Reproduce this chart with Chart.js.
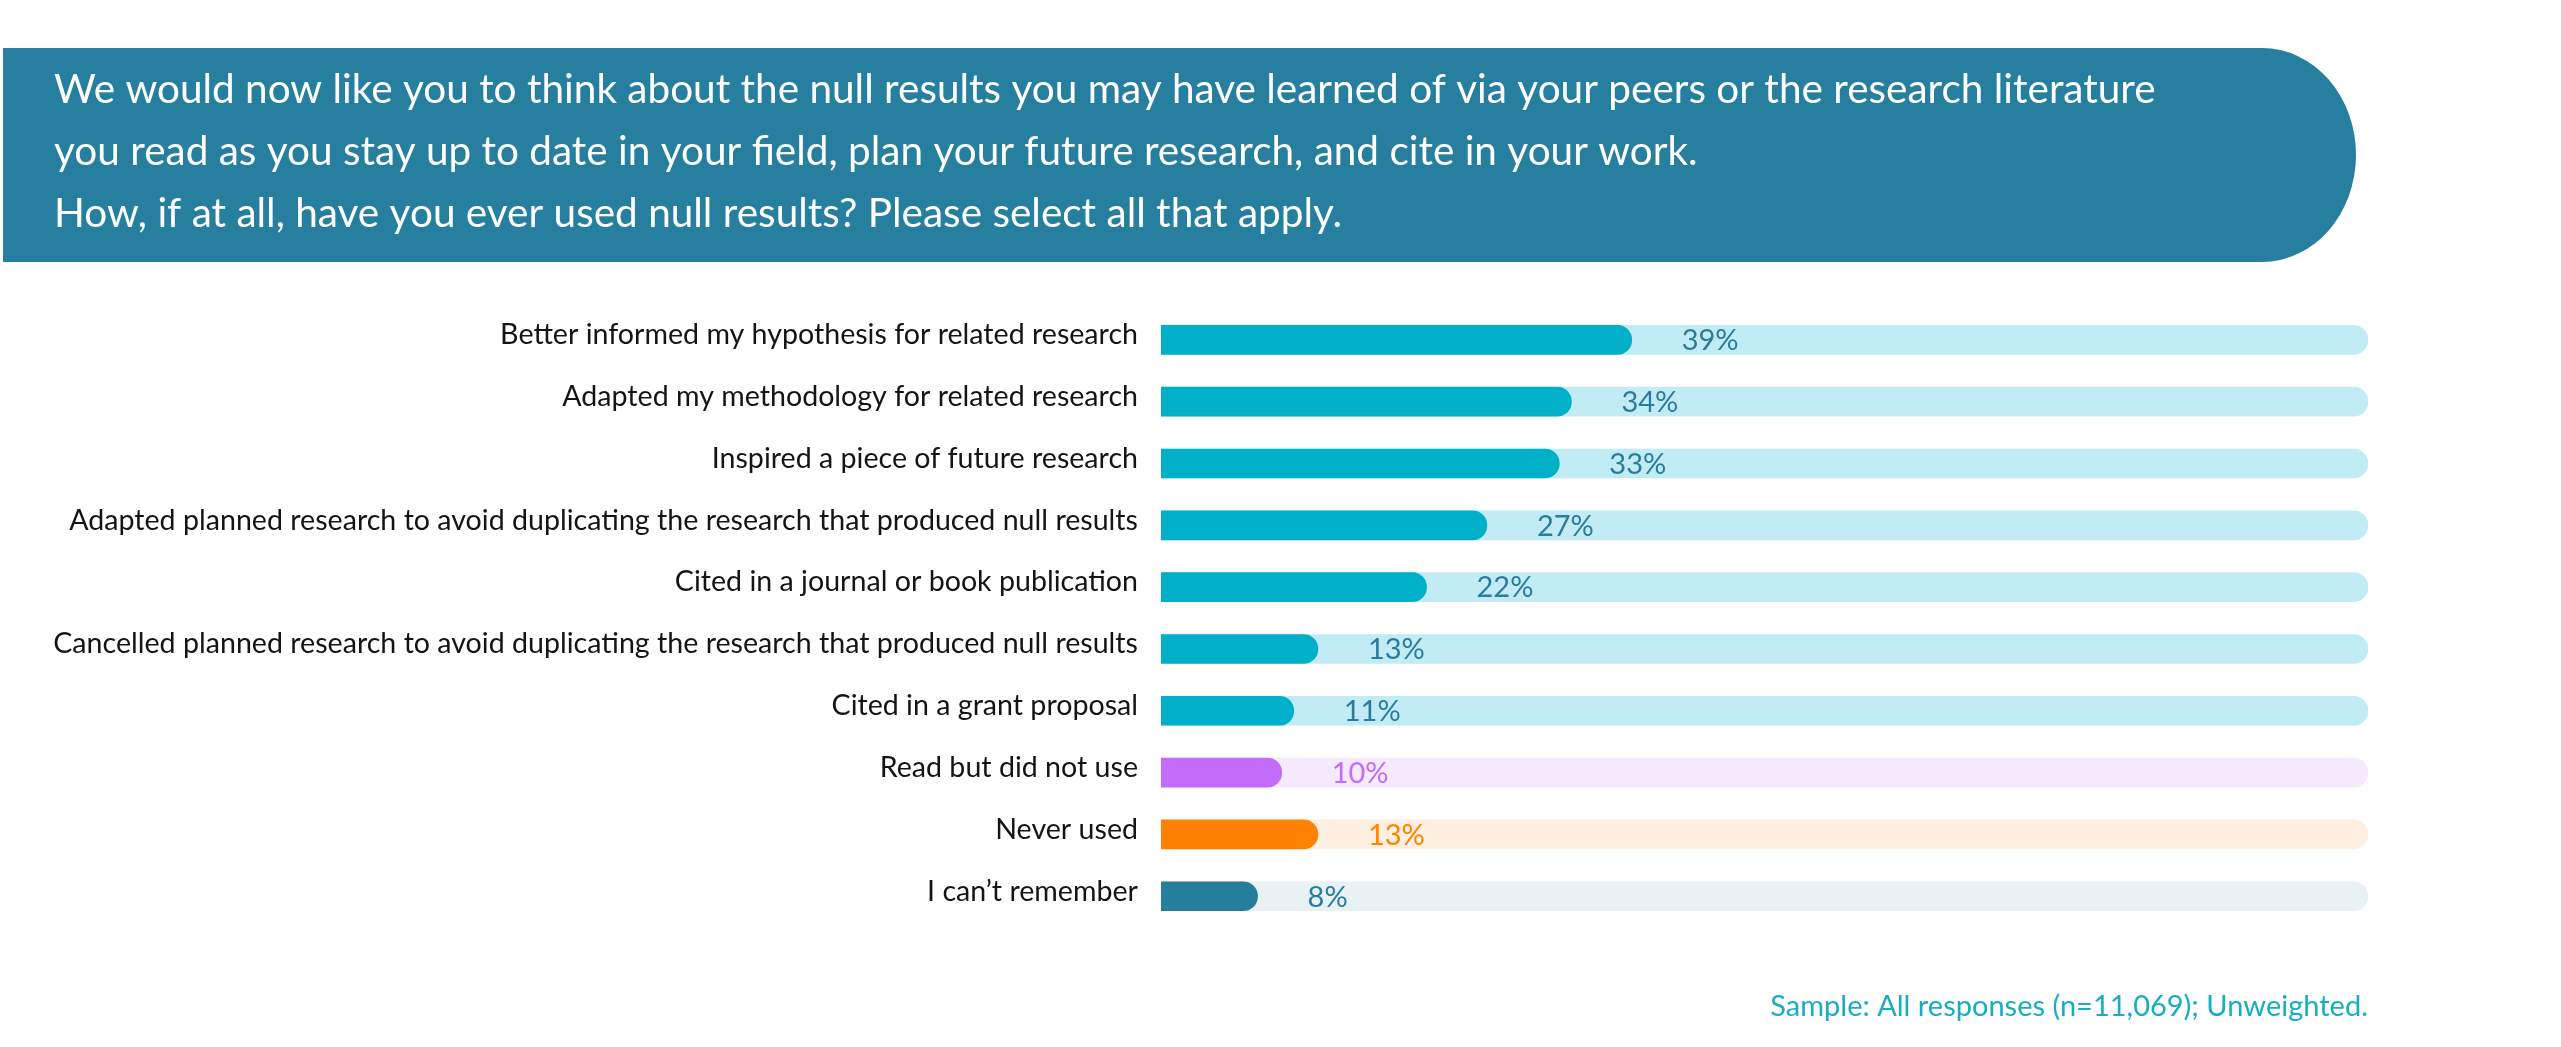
<!DOCTYPE html>
<html>
<head>
<meta charset="utf-8">
<title>Use of null results</title>
<script src="https://cdn.jsdelivr.net/npm/chart.js@4.4.1/dist/chart.umd.min.js"></script>
<style>
  html, body { margin: 0; padding: 0; background: #ffffff; }
  #wrap { position: relative; width: 2561px; height: 1047px; }
</style>
</head>
<body>
<div id="wrap"><canvas id="nullChart"></canvas></div>
<script>
const questionLines = [
    'We would now like you to think about the null results you may have learned of via your peers or the research literature',
    'you read as you stay up to date in your field, plan your future research, and cite in your work.',
    'How, if at all, have you ever used null results? Please select all that apply.'
];

const categories = [
    'Better informed my hypothesis for related research',
    'Adapted my methodology for related research',
    'Inspired a piece of future research',
    'Adapted planned research to avoid duplicating the research that produced null results',
    'Cited in a journal or book publication',
    'Cancelled planned research to avoid duplicating the research that produced null results',
    'Cited in a grant proposal',
    'Read but did not use',
    'Never used',
    'I can\u2019t remember'
];

// percent of respondents
const shares = [39, 34, 33, 27, 22, 13, 11, 10, 13, 8];
// background track, always the full 100%
const trackValues = [100, 100, 100, 100, 100, 100, 100, 100, 100, 100];

const footnote = 'Sample: All responses (n=11,069); Unweighted.';

// colours per row
const CYAN = '#00b0c9', PURPLE = '#c36cfb', ORANGE = '#ff8300', TEAL = '#267e9d';
const barColors = [CYAN, CYAN, CYAN, CYAN, CYAN, CYAN, CYAN, PURPLE, ORANGE, TEAL];
const trackColors = ['#c1ebf5', '#c1ebf5', '#c1ebf5', '#c1ebf5', '#c1ebf5', '#c1ebf5', '#c1ebf5',
    '#f6eafe', '#feefe1', '#e8f2f5'];
const valueColors = ['#2a7c9c', '#2a7c9c', '#2a7c9c', '#2a7c9c', '#2a7c9c', '#2a7c9c', '#2a7c9c',
    PURPLE, ORANGE, TEAL];

Chart.defaults.font.family = 'Lato, "Open Sans", sans-serif';

// the dark pill behind the question text
const bannerPlugin = {
    id: 'banner',
    beforeDraw(chart) {
        const ctx = chart.ctx;
        ctx.save();
        ctx.fillStyle = '#267f9e';
        ctx.beginPath();
        ctx.moveTo(3, 48);
        ctx.lineTo(2262, 48);
        ctx.ellipse(2262, 155, 94, 107, 0, -Math.PI / 2, Math.PI / 2);
        ctx.lineTo(3, 262);
        ctx.closePath();
        ctx.fill();
        ctx.restore();
    }
};

// "39%" etc. just right of each bar
const valueLabels = {
    id: 'valueLabels',
    afterDatasetsDraw(chart) {
        const ctx = chart.ctx;
        const meta = chart.getDatasetMeta(0);
        ctx.save();
        ctx.font = '29px Lato, "Open Sans", sans-serif';
        ctx.textAlign = 'left';
        ctx.textBaseline = 'middle';
        meta.data.forEach((bar, i) => {
            ctx.fillStyle = valueColors[i];
            ctx.fillText(shares[i] + '%', bar.x + 50, bar.y + 1);
        });
        ctx.restore();
    }
};

const config = {
    type: 'bar',
    data: {
        labels: categories,
        datasets: [
            {
                label: 'Share',
                data: shares,
                backgroundColor: barColors,
                barThickness: 29,
                borderRadius: 15,
                grouped: false,
                order: 0
            },
            {
                label: 'Track',
                data: trackValues,
                backgroundColor: trackColors,
                barThickness: 29,
                borderRadius: 15,
                grouped: false,
                order: 1
            }
        ]
    },
    options: {
        indexAxis: 'y',
        responsive: true,
        maintainAspectRatio: false,
        animation: false,
        layout: {
            padding: { left: 54, right: 193, top: 0, bottom: 0 }
        },
        scales: {
            x: {
                display: false,
                min: 0,
                max: 100
            },
            y: {
                afterFit(scale) { scale.width = 1107; },
                border: { display: false },
                grid: { display: false, drawTicks: false },
                ticks: {
                    padding: 23,
                    labelOffset: -5,
                    color: '#141414',
                    font: { size: 28.6 }
                }
            }
        },
        plugins: {
            legend: { display: false },
            tooltip: { enabled: false },
            title: {
                display: true,
                text: questionLines,
                align: 'start',
                color: '#ffffff',
                font: { size: 40.5, weight: 'normal', lineHeight: 1.53 },
                padding: { top: 59, bottom: 64 }
            },
            subtitle: {
                display: true,
                text: footnote,
                position: 'bottom',
                align: 'end',
                color: '#17aec4',
                font: { size: 29, weight: 'normal', lineHeight: 1.2 },
                padding: { top: 62, bottom: 23 }
            }
        }
    },
    plugins: [bannerPlugin, valueLabels]
};

const nullChart = new Chart(document.getElementById('nullChart'), config);
</script>
</body>
</html>
